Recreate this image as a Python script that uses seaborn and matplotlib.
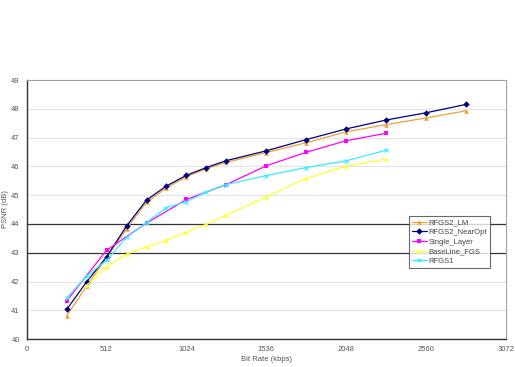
import pandas as pd
import seaborn as sns
import matplotlib.pyplot as plt

# bit rates (kbps)
rates_full = [256, 384, 512, 640, 768, 896, 1024, 1152, 1280, 1536, 1792, 2048, 2304, 2560, 2816]
rates_rfgs1 = [256, 384, 512, 640, 768, 896, 1024, 1152, 1280, 1536, 1792, 2048, 2304]
rates_single = [256, 512, 768, 1024, 1280, 1536, 1792, 2048, 2304]
rates_base = [384, 512, 640, 768, 896, 1024, 1152, 1280, 1536, 1792, 2048, 2304]

rfgs2_lm = [40.81, 41.84, 42.83, 43.84, 44.75, 45.25, 45.64, 45.92, 46.14, 46.48, 46.82, 47.20, 47.45, 47.68, 47.93]
rfgs2_nearopt = [41.03, 41.99, 42.86, 43.93, 44.83, 45.32, 45.69, 45.96, 46.20, 46.54, 46.93, 47.30, 47.61, 47.86, 48.15]
single_layer = [41.33, 43.09, 44.03, 44.85, 45.37, 46.02, 46.49, 46.89, 47.15]
baseline_fgs = [41.87, 42.52, 42.95, 43.20, 43.44, 43.73, 43.99, 44.31, 44.94, 45.58, 46.01, 46.25]
rfgs1 = [41.43, 42.19, 42.74, 43.53, 44.05, 44.57, 44.77, 45.11, 45.37, 45.68, 45.96, 46.19, 46.56]

x_ticks = [0, 512, 1024, 1536, 2048, 2560, 3072]
y_ticks = [40, 41, 42, 43, 44, 45, 46, 47, 48, 49]

series = [
    ('RFGS2_LM', rates_full, rfgs2_lm, '#F0A030', '^'),
    ('RFGS2_NearOpt', rates_full, rfgs2_nearopt, '#000080', 'D'),
    ('Single_Layer', rates_single, single_layer, '#FF00FF', 's'),
    ('BaseLine_FGS', rates_base, baseline_fgs, '#FFFF33', '^'),
    ('RFGS1', rates_rfgs1, rfgs1, '#33EEFF', 'x'),
]

sns.set_style('white')
plt.rcParams['font.family'] = ['Liberation Sans', 'DejaVu Sans']

fig = plt.figure(figsize=(5.15, 3.67), dpi=100)
ax = fig.add_axes([0.052, 0.076, 0.930, 0.706])

for name, xs, ys, col, mk in series:
    df = pd.DataFrame({'rate': xs, 'psnr': ys})
    sns.lineplot(data=df, x='rate', y='psnr', ax=ax, color=col, marker=mk,
                 markersize=3.3, markeredgewidth=0.8 if mk == 'x' else 0,
                 markeredgecolor=col, linewidth=0.9, label=name)

for v in y_ticks[1:-1]:
    if v in (43, 44):
        ax.axhline(v, color='#333333', linewidth=0.9, zorder=0)
    else:
        ax.axhline(v, color='#e4e4e4', linewidth=0.8, zorder=0)

ax.set_xlim(0, 3072)
ax.set_ylim(40, 49)
ax.set_xticks(x_ticks)
ax.set_yticks(y_ticks)
ax.tick_params(axis='both', labelsize=5.5, labelcolor='#555555', length=2,
               width=0.6, color='#555555', pad=3)
ax.tick_params(axis='x', direction='in', pad=5)
for s in ['left', 'bottom']:
    ax.spines[s].set_color('#333333')
    ax.spines[s].set_linewidth(1.0)
for s in ['top', 'right']:
    ax.spines[s].set_color('#a0a0a0')
    ax.spines[s].set_linewidth(0.8)

ax.set_xlabel('Bit Rate (kbps)', fontsize=5.5, color='#555555', labelpad=2)
ax.set_ylabel('PSNR (dB)', fontsize=5.5, color='#555555', labelpad=2)

leg = ax.legend(loc='upper left', bbox_to_anchor=(0.79, 0.488), fontsize=5.5,
                frameon=True, fancybox=False, edgecolor='#444444',
                handlelength=2.0, handletextpad=0.2, borderpad=0.35,
                labelspacing=0.3)
leg.get_frame().set_linewidth(0.8)
for t in leg.get_texts():
    t.set_color('#444444')

fig.savefig('out.png', dpi=100, facecolor='white')
